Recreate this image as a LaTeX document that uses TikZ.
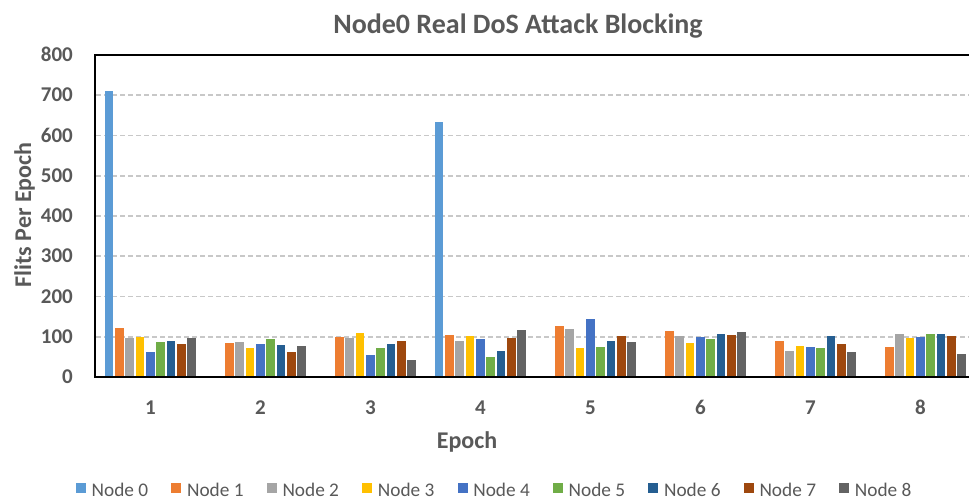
\documentclass[tikz,border=0pt]{standalone}
\usepackage{fontspec}
\setmainfont{Carlito}
\definecolor{txt}{HTML}{595959}
\definecolor{gridc}{HTML}{C8C8C8}
\definecolor{c0}{HTML}{5B9BD5}
\definecolor{c1}{HTML}{ED7D31}
\definecolor{c2}{HTML}{A5A5A5}
\definecolor{c3}{HTML}{FFC000}
\definecolor{c4}{HTML}{4472C4}
\definecolor{c5}{HTML}{70AD47}
\definecolor{c6}{HTML}{255E91}
\definecolor{c7}{HTML}{9E480E}
\definecolor{c8}{HTML}{636363}
\tikzset{
  gridline/.style={draw=gridc, line width=1.6pt, dash pattern=on 5pt off 3pt},
  ticklab/.style={inner sep=0pt, text=txt, font=\bfseries\fontsize{21}{21}\selectfont},
  axtitle/.style={inner sep=0pt, text=txt, font=\bfseries\fontsize{24}{24}\selectfont},
  legtext/.style={inner sep=0pt, text=txt, font=\fontsize{19.3}{19.3}\selectfont},
}
\newcommand\bargroup[2]{%
  \foreach \v [count=\k from 0] in {#2} {
    \pgfmathsetmacro\xl{104.7+(#1-1)*110+\k*10.33}
    \fill[c\k] (\xl,377) rectangle ({\xl+8.7},{377-\v*0.4025});
  }}
\begin{document}
\begin{tikzpicture}[x=1pt,y=-1pt]
\useasboundingbox (0,0) rectangle (969,499);
\fill[white] (0,0) rectangle (969,499);
\begin{scope}
\clip (0,0) rectangle (969,499);
\foreach \v in {100,200,...,700} {
  \draw[gridline] (96,{377-\v*0.4025}) -- (975,{377-\v*0.4025});
}
\bargroup{1}{711,121,98,99,62,87,89,82,97}
\bargroup{2}{0,85,87,72,82,94,80,62,76}
\bargroup{3}{0,99,98,109,54,72,82,89,42}
\bargroup{4}{633,104,89,102,94,50,65,97,117}
\bargroup{5}{0,127,119,72,144,75,89,102,87}
\bargroup{6}{0,114,102,85,99,94,107,104,112}
\bargroup{7}{0,89,65,77,75,72,102,82,62}
\bargroup{8}{0,75,107,97,99,107,107,102,57}
\draw[black, line width=2.4pt] (95,55) rectangle (976,377);
\end{scope}
% axis tick labels
\foreach \v in {0,100,...,800} {
  \node[ticklab, anchor=base east] (y\v) at (73,{377-\v*0.4025+6.5}) {\v};
}
\foreach \g in {1,...,8} {
  \node[ticklab, anchor=base] (x\g) at ({150.4+(\g-1)*110},414) {\g};
}
% titles
\node[inner sep=0pt, text=txt, font=\bfseries\fontsize{28}{28}\selectfont, anchor=base] (title) at (518,33) {Node0 Real DoS Attack Blocking};
\node[axtitle, anchor=base] (xtitle) at (467,448) {Epoch};
\node[axtitle, anchor=base, rotate=90] (ytitle) at (31,215) {Flits Per Epoch};
% legend
\foreach \k in {0,...,8} {
  \fill[c\k] ({76+\k*95.4},483) rectangle ++(10,10);
  \node[legtext, anchor=base west] (leg\k) at ({91.5+\k*95.4},496) {Node \k};
}
\end{tikzpicture}
\end{document}
